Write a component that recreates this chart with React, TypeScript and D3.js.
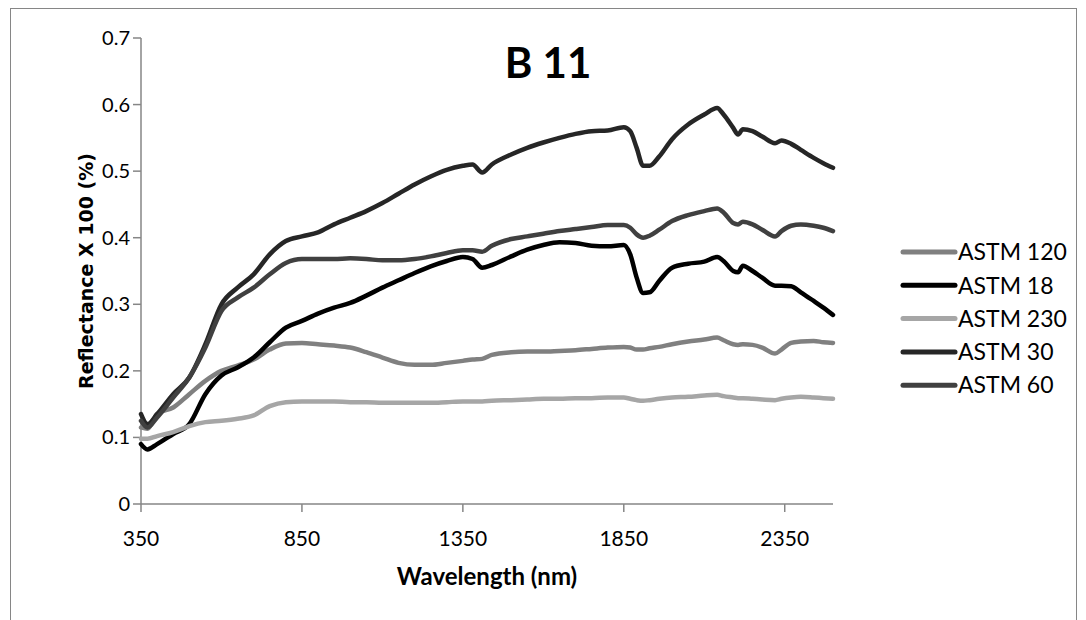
import React from "react";
import * as d3 from "d3";

// wavelength grid (nm) shared by every series
const wavelengths = [
  350, 370, 400, 450, 500, 550, 600, 650, 700, 750,
  800, 850, 900, 950, 1000, 1050, 1100, 1150, 1200, 1250,
  1300, 1350, 1380, 1410, 1440, 1500, 1550, 1600, 1650, 1700,
  1750, 1800, 1850, 1870, 1890, 1910, 1930, 1960, 2000, 2050,
  2100, 2140, 2160, 2190, 2205, 2220, 2250, 2280, 2320, 2340,
  2370, 2400, 2440, 2470, 2500,
];

const astm120 = [
  0.115, 0.113, 0.135, 0.145, 0.165, 0.185, 0.2, 0.208, 0.217, 0.232,
  0.241, 0.242, 0.24, 0.238, 0.235, 0.228, 0.22, 0.212, 0.209, 0.209,
  0.212, 0.215, 0.217, 0.218, 0.224, 0.228, 0.229, 0.229, 0.23, 0.231,
  0.233, 0.235, 0.236, 0.235, 0.232, 0.232, 0.234, 0.236, 0.24, 0.244,
  0.247, 0.25, 0.246, 0.24, 0.239, 0.24, 0.239, 0.235, 0.226, 0.232,
  0.242, 0.244, 0.245, 0.243, 0.242,
];

const astm18 = [
  0.09, 0.082, 0.09, 0.105, 0.12, 0.165, 0.193, 0.205, 0.22, 0.243,
  0.265, 0.275, 0.286, 0.295, 0.302, 0.313, 0.325, 0.336, 0.347, 0.357,
  0.365, 0.371, 0.368, 0.355, 0.359, 0.372, 0.382, 0.389, 0.393, 0.392,
  0.388, 0.387, 0.389, 0.375, 0.34, 0.317, 0.318, 0.335, 0.355, 0.361,
  0.364, 0.371, 0.365, 0.35, 0.348, 0.358, 0.35, 0.34, 0.328, 0.328,
  0.327, 0.318, 0.305, 0.295, 0.284,
];

const astm230 = [
  0.098, 0.098, 0.102, 0.108, 0.117, 0.123, 0.125, 0.128, 0.133, 0.147,
  0.153, 0.154, 0.154, 0.154, 0.153, 0.153, 0.152, 0.152, 0.152, 0.152,
  0.153, 0.154, 0.154, 0.154, 0.155, 0.156, 0.157, 0.158, 0.158, 0.159,
  0.159, 0.16, 0.16, 0.158, 0.156, 0.155, 0.156, 0.158, 0.16, 0.161,
  0.163, 0.164, 0.162, 0.16, 0.159, 0.159, 0.158, 0.157, 0.156, 0.158,
  0.16, 0.161, 0.16, 0.159, 0.158,
];

const astm30 = [
  0.135, 0.12, 0.135, 0.165, 0.19, 0.24, 0.3, 0.325, 0.345, 0.375,
  0.395, 0.402, 0.408, 0.42, 0.43, 0.44, 0.452, 0.466, 0.48, 0.492,
  0.502, 0.508, 0.51, 0.498, 0.51, 0.525, 0.535, 0.543, 0.55, 0.556,
  0.56, 0.561, 0.566, 0.56, 0.535, 0.508, 0.508, 0.522, 0.548, 0.57,
  0.585, 0.595, 0.585, 0.565, 0.555, 0.563, 0.56, 0.552, 0.542, 0.546,
  0.541, 0.532, 0.52, 0.512, 0.505,
];

const astm60 = [
  0.125, 0.115, 0.13, 0.16, 0.19, 0.235, 0.29, 0.31, 0.325, 0.345,
  0.362, 0.368, 0.368, 0.368, 0.369, 0.368, 0.366, 0.366, 0.368, 0.372,
  0.377, 0.381, 0.381, 0.379, 0.388, 0.398, 0.402, 0.406, 0.41, 0.413,
  0.416, 0.419, 0.419, 0.415, 0.405, 0.4, 0.403, 0.412, 0.425, 0.434,
  0.44, 0.444, 0.438, 0.422, 0.42, 0.424, 0.42, 0.412, 0.402, 0.41,
  0.418, 0.42, 0.418, 0.415, 0.41,
];

const seriesNames = ["ASTM 120", "ASTM 18", "ASTM 230", "ASTM 30", "ASTM 60"];
const seriesValues = [astm120, astm18, astm230, astm30, astm60];
const seriesColors = ["#808080", "#000000", "#a6a6a6", "#262626", "#404040"];

const xTicks = [350, 850, 1350, 1850, 2350];
const yTicks = [0, 0.1, 0.2, 0.3, 0.4, 0.5, 0.6, 0.7];

const font = "Lato, 'Open Sans', sans-serif";
const axisColor = "#868686";

export default function App() {
  const x = d3.scaleLinear().domain([350, 2500]).range([141, 833]);
  const y = d3.scaleLinear().domain([0, 0.7]).range([504, 38]);

  const line = d3
    .line<number>()
    .x((_, i) => x(wavelengths[i]))
    .y((d) => y(d))
    .curve(d3.curveMonotoneX);

  return (
    <svg
      width={1086}
      height={620}
      style={{ position: "absolute", left: 0, top: 0, background: "#fff" }}
    >
      <rect x={10.5} y={8.5} width={1066} height={620} fill="#fff" stroke={axisColor} strokeWidth={1} />

      <text x={548} y={78} textAnchor="middle" fontFamily={font} fontWeight="bold" fontSize={42}>
        B 11
      </text>

      {/* y axis */}
      <line x1={141} x2={141} y1={y(0.7)} y2={y(0)} stroke={axisColor} strokeWidth={1.5} />
      {yTicks.map((t) => (
        <g key={t}>
          <line x1={133} x2={141} y1={y(t)} y2={y(t)} stroke={axisColor} strokeWidth={1.5} />
          <text x={130} y={y(t)} dy="0.35em" textAnchor="end" fontFamily={font} fontSize={20}>
            {t === 0 ? "0" : t.toFixed(1)}
          </text>
        </g>
      ))}

      {/* x axis */}
      <line x1={x(350)} x2={x(2500)} y1={504} y2={504} stroke={axisColor} strokeWidth={1.5} />
      {xTicks.map((t) => (
        <g key={t}>
          <line x1={x(t)} x2={x(t)} y1={504} y2={512} stroke={axisColor} strokeWidth={1.5} />
          <text x={x(t)} y={546} textAnchor="middle" fontFamily={font} fontSize={21}>
            {t}
          </text>
        </g>
      ))}

      <text x={487} y={585} textAnchor="middle" fontFamily={font} fontWeight="bold" fontSize={24}>
        Wavelength (nm)
      </text>
      <text
        transform={`translate(93, ${(y(0) + y(0.7)) / 2}) rotate(-90)`}
        textAnchor="middle"
        fontFamily="'DejaVu Sans', Verdana, sans-serif"
        fontWeight="bold"
        fontSize={19}
      >
        Reflectance X 100 (%)
      </text>

      {seriesValues.map((vals, i) => (
        <path
          key={seriesNames[i]}
          d={line(vals) || ""}
          fill="none"
          stroke={seriesColors[i]}
          strokeWidth={4.5}
          strokeLinejoin="round"
          strokeLinecap="round"
        />
      ))}

      {/* legend */}
      {seriesNames.map((name, i) => {
        const ly = 252 + i * 33.3;
        return (
          <g key={name}>
            <line x1={903} x2={955} y1={ly} y2={ly} stroke={seriesColors[i]} strokeWidth={5} strokeLinecap="round" />
            <text x={958} y={ly} dy="0.36em" fontFamily={font} fontSize={23}>
              {name}
            </text>
          </g>
        );
      })}
    </svg>
  );
}
